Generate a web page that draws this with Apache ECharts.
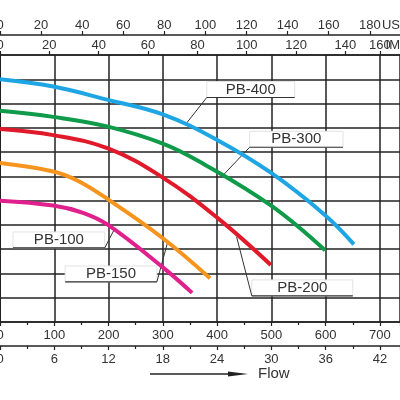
<!DOCTYPE html>
<html>
<head>
<meta charset="utf-8">
<script src="https://cdn.jsdelivr.net/npm/echarts@6/dist/echarts.min.js"></script>
<style>
html, body { margin: 0; padding: 0; background: #fff; }
#chart { width: 400px; height: 400px; }
</style>
</head>
<body>
<div id="chart"></div>
<script>
// pump curves: [flow L/min, head m]
var pb400 = [[0, 20.0], [98, 19.4], [199, 18.3], [300, 17.1], [400, 15.0], [499, 12.3], [599, 8.8], [652, 6.4]];
var pb300 = [[0, 17.4], [98, 16.9], [199, 16.1], [300, 14.7], [368, 13.2], [499, 9.6], [599, 5.9]];
var pb200 = [[0, 15.9], [98, 15.4], [199, 14.3], [300, 11.9], [400, 8.6], [499, 4.7]];
var pb150 = [[0, 13.1], [98, 12.4], [145, 11.6], [199, 10.1], [300, 6.9], [387, 3.6]];
var pb100 = [[0, 10.0], [98, 9.6], [153, 9.0], [199, 8.0], [300, 4.5], [354, 2.4]];

var names = ['PB-400', 'PB-300', 'PB-200', 'PB-150', 'PB-100'];
var colors = ['#1ea5e3', '#0f9b4a', '#e01a2a', '#f7941e', '#e0208c'];

// top scales; the printed IMP "160" sits on the 700 L/min line
var impTicks = [0, 20, 40, 60, 80, 100, 120, 140, 154];
var impLabels = ['0', '20', '40', '60', '80', '100', '120', '140', '160'];
var usTicks = [0, 20, 40, 60, 80, 100, 120, 140, 160, 180];

// label callouts: point on curve, elbow of leader, far end of underline (flow)
var notes = [
  { name: 'PB-400', anchor: [344, 16.4], elbow: [381, 18.5], end: 543 },
  { name: 'PB-300', anchor: [409, 12.0], elbow: [460, 14.4], end: 632 },
  { name: 'PB-200', anchor: [436, 7.0], elbow: [464, 2.15], end: 650 },
  { name: 'PB-150', anchor: [309, 6.6], elbow: [289, 3.3], end: 120 },
  { name: 'PB-100', anchor: [212, 7.75], elbow: [193, 6.1], end: 24 }
];

var flowMax = 737;   // L/min at right edge
var headMax = 22;
var font = '"Liberation Sans", Arial, sans-serif';
var ink = '#222';

function every(step) {
  return function (v) {
    return Math.abs(v / step - Math.round(v / step)) < 1e-6 ? String(Math.round(v)) : '';
  };
}

function flowAxis(pos, offset, max, step, minor, margin, ticks) {
  var ax = {
    type: 'value',
    position: pos,
    offset: offset,
    min: 0,
    max: max,
    interval: step,
    axisLine: { show: true, lineStyle: { color: ink, width: 1.5 } },
    axisTick: { show: true, length: 4, lineStyle: { color: ink, width: 1.2 } },
    minorTick: { show: minor, splitNumber: 2, length: 3, lineStyle: { color: ink, width: 1.2 } },
    axisLabel: { formatter: every(step), margin: margin, color: '#333', fontSize: 13, fontFamily: font, hideOverlap: false },
    splitLine: { show: false }
  };
  if (ticks) {
    ax.axisTick.customValues = ticks;
    ax.axisLabel.customValues = ticks;
  }
  return ax;
}

var xAxes = [
  flowAxis('bottom', 0, flowMax, 100, true, 7),
  flowAxis('bottom', 24, flowMax * 0.06, 6, true, 7),
  flowAxis('top', 0, flowMax / 4.546, 20, false, 3, impTicks),
  flowAxis('top', 20, flowMax / 3.785, 20, false, 3, usTicks)
];
xAxes[0].splitLine = { show: true, lineStyle: { color: ink, width: 1.5 } };
xAxes[2].axisLabel.formatter = function (v) {
  var i = impTicks.indexOf(v);
  return i < 0 ? '' : impLabels[i];
};

function renderNote(params, api) {
  var n = notes[params.dataIndex];
  var a = api.coord(n.anchor);
  var e = api.coord(n.elbow);
  var f = api.coord([n.end, n.elbow[1]]);
  var x0 = Math.min(e[0], f[0]), x1 = Math.max(e[0], f[0]);
  return {
    type: 'group',
    children: [
      { type: 'rect', shape: { x: x0, y: e[1] - 16, width: x1 - x0, height: 16 }, style: { fill: '#fff', stroke: '#e2e2e2', lineWidth: 1 } },
      { type: 'line', shape: { x1: x0, y1: e[1], x2: x1, y2: e[1] }, style: { stroke: '#333', lineWidth: 1.2 } },
      { type: 'line', shape: { x1: a[0], y1: a[1], x2: e[0], y2: e[1] }, style: { stroke: '#333', lineWidth: 1 } },
      { type: 'text', style: { text: n.name, x: (x0 + x1) / 2, y: e[1] - 8, align: 'center', verticalAlign: 'middle', fontSize: 15, fontFamily: font, fill: '#333' } }
    ]
  };
}

var curves = [pb400, pb300, pb200, pb150, pb100];
var series = curves.map(function (d, i) {
  return {
    name: names[i],
    type: 'line',
    data: d,
    smooth: 0.4,
    symbol: 'none',
    z: 4,
    lineStyle: { color: colors[i], width: 4 }
  };
});
series.push({
  type: 'custom',
  renderItem: renderNote,
  data: notes.map(function (n) { return n.elbow; }),
  z: 3,
  silent: true
});

var chart = echarts.init(document.getElementById('chart'), null, { renderer: 'canvas' });
chart.setOption({
  animation: false,
  backgroundColor: '#fff',
  grid: { left: 0, right: 0, top: 55, bottom: 78, containLabel: false, outerBoundsMode: 'none' },
  xAxis: xAxes,
  yAxis: {
    type: 'value',
    min: 0,
    max: headMax,
    interval: 2,
    axisLine: { show: true, lineStyle: { color: ink, width: 2 } },
    axisTick: { show: false },
    axisLabel: { show: false },
    splitLine: { show: true, lineStyle: { color: ink, width: 1.5 } }
  },
  series: series,
  graphic: [
    { type: 'line', shape: { x1: 150, y1: 374, x2: 238, y2: 374 }, style: { stroke: ink, lineWidth: 1.5 } },
    { type: 'polygon', shape: { points: [[228, 371.5], [248, 374], [228, 376.5]] }, style: { fill: ink } },
    { type: 'text', left: 258, top: 366, style: { text: 'Flow', fontSize: 15, fontFamily: font, fill: '#333' } },
    { type: 'text', right: 0, top: 19, style: { text: 'US', fontSize: 13, fontFamily: font, fill: '#333' } },
    { type: 'text', right: 0, top: 39, style: { text: 'IM', fontSize: 13, fontFamily: font, fill: '#333' } }
  ]
});
</script>
</body>
</html>
